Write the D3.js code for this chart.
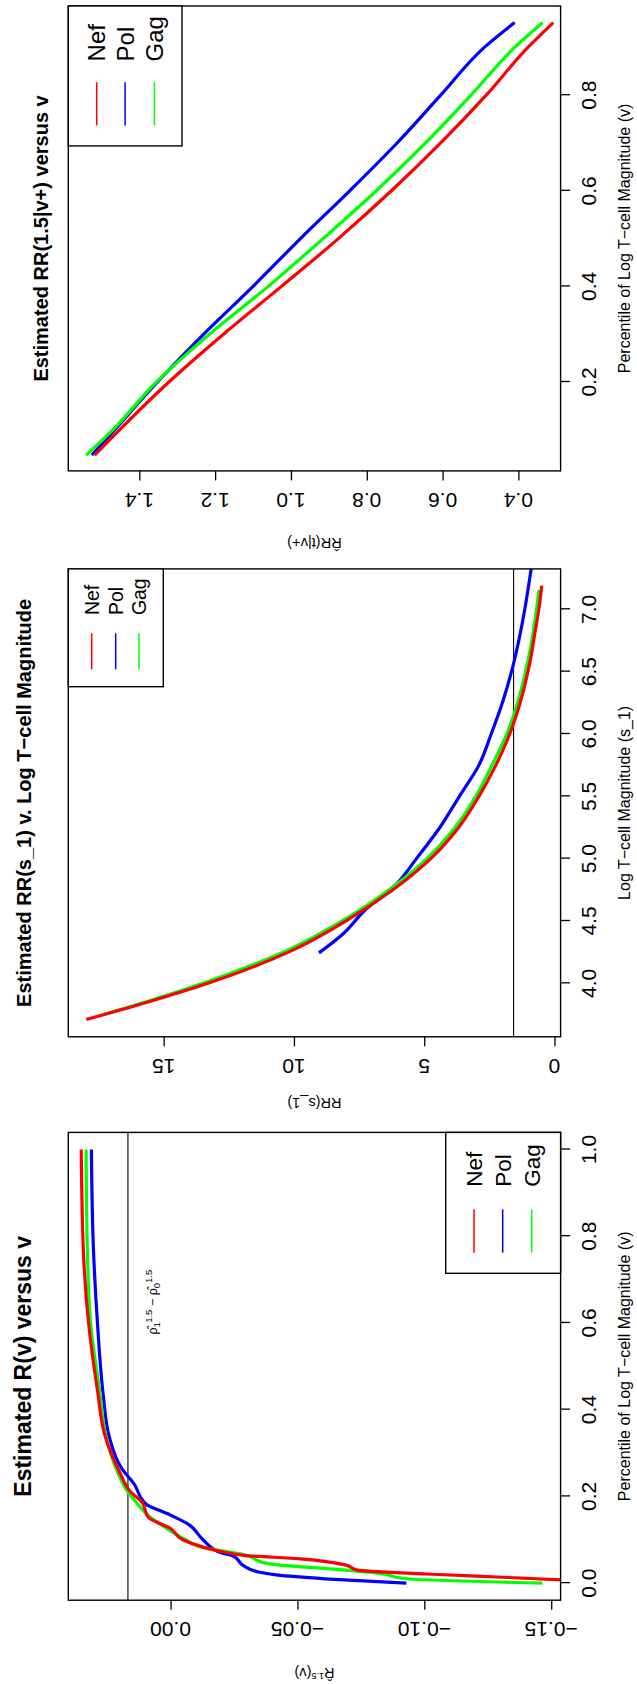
<!DOCTYPE html>
<html>
<head>
<meta charset="utf-8">
<script src="https://cdn.jsdelivr.net/npm/d3@7"></script>
<style>
  body { margin: 0; background: #fff; }
  text { font-family: "Liberation Sans", Arial, Helvetica, sans-serif; fill: #000; }
</style>
</head>
<body>
<div id="chart"></div>
<script>
// series shared by all three panels
const seriesNames = ["Nef", "Pol", "Gag"];
const seriesColors = ["#ff0000", "#0000ff", "#00ff00"];

// panel 1 : estimated R(v) versus v   [v, R]
const rv_nef = [[1.0,0.0352],[0.771,0.0344],[0.599,0.0323],[0.444,0.0288],[0.341,0.0259],[0.255,0.0200],
  [0.212,0.0160],[0.186,0.0112],[0.152,0.0088],[0.126,0.0],[0.100,-0.0048],[0.083,-0.0128],[0.070,-0.0224],
  [0.064,-0.0288],[0.056,-0.0512],[0.042,-0.0688],[0.030,-0.0736],[0.021,-0.1009],[0.013,-0.1329],[0.006,-0.160]];
const rv_pol = [[1.0,0.0312],[0.771,0.0304],[0.599,0.0288],[0.427,0.0264],[0.341,0.0243],[0.264,0.0192],
  [0.229,0.0144],[0.182,0.0096],[0.161,0.0016],[0.135,-0.0072],[0.100,-0.0128],[0.070,-0.0200],[0.062,-0.0248],
  [0.040,-0.0288],[0.025,-0.0352],[0.019,-0.0416],[0.010,-0.0608],[0.0,-0.0929]];
const rv_gag = [[1.0,0.0333],[0.771,0.0328],[0.599,0.0315],[0.444,0.0280],[0.341,0.0256],[0.255,0.0208],
  [0.212,0.0170],[0.186,0.0135],[0.152,0.0080],[0.126,0.0015],[0.100,-0.0060],[0.083,-0.0120],[0.066,-0.0288],
  [0.045,-0.0384],[0.030,-0.0688],[0.023,-0.0817],[0.010,-0.0930],[0.0,-0.1465]];
const rv_xticks = [0, 0.2, 0.4, 0.6, 0.8, 1.0];
const rv_yticks = [0, -0.05, -0.10, -0.15];
const rv_xlim = [-0.0394, 1.0394];
const rv_ylim = [-0.1537, 0.0403];
const rv_hline = 0.0168;

// panel 2 : estimated RR(s_1) versus log T-cell magnitude   [s, RR]
const rr_nef = [[3.71,17.97],[3.85,15.6],[4.0,13.3],[4.27,10.0],[4.5,8.0],[4.75,6.2],[5.0,4.75],[5.25,3.68],
  [5.5,2.9],[5.75,2.25],[6.0,1.72],[6.25,1.32],[6.5,1.02],[6.6,0.92],[6.8,0.76],[7.0,0.6],[7.19,0.49]];
const rr_pol = [[4.244,9.04],[4.4,8.1],[4.582,7.3],[4.8,6.05],[5.0,5.3],[5.25,4.4],[5.5,3.65],[5.75,2.9],
  [6.0,2.43],[6.25,2.0],[6.5,1.65],[6.75,1.37],[7.0,1.14],[7.25,0.95],[7.4,0.84]];
const rr_gag = [[3.75,17.3],[3.85,15.7],[4.0,13.5],[4.27,10.2],[4.5,8.15],[4.75,6.35],[5.0,4.9],[5.25,3.82],
  [5.5,3.02],[5.75,2.4],[6.0,1.83],[6.25,1.42],[6.5,1.11],[6.75,0.87],[7.0,0.69],[7.155,0.595]];
const rr_xticks = [4.0, 4.5, 5.0, 5.5, 6.0, 6.5, 7.0];
const rr_yticks = [0, 5, 10, 15];
const rr_xlim = [3.571, 7.324];
const rr_ylim = [-0.234, 18.66];
const rr_hline = 1.57;

// panel 3 : estimated RR(1.5|v+) versus v   [v, RR]
const rt_v   = [0.047, 0.1, 0.2, 0.3, 0.4, 0.5, 0.6, 0.7, 0.8, 0.9, 0.952];
const rt_nef = [1.518, 1.452, 1.322, 1.178, 1.025, 0.875, 0.735, 0.605, 0.485, 0.375, 0.308];
const rt_pol = [1.525, 1.465, 1.352, 1.23, 1.10, 0.975, 0.845, 0.72, 0.605, 0.49, 0.410];
const rt_gag = [1.540, 1.47, 1.355, 1.215, 1.06, 0.915, 0.775, 0.645, 0.525, 0.41, 0.336];
const rt_xticks = [0.2, 0.4, 0.6, 0.8];
const rt_yticks = [0.4, 0.6, 0.8, 1.0, 1.2, 1.4];
const rt_xlim = [0.014, 0.9866];
const rt_ylim = [0.2887, 1.5873];

// the page is a landscape R figure turned a quarter turn; draw it landscape, then rotate
const W = 1684, H = 637;
const svg = d3.select("#chart").append("svg")
    .attr("width", H)
    .attr("height", W);
const root = svg.append("g")
    .attr("transform", "translate(0," + W + ") rotate(-90)");

function drawPanel(p) {
    const x = d3.scaleLinear().domain(p.xlim).range([p.left, p.right]);
    const y = d3.scaleLinear().domain(p.ylim).range([p.bottom, p.top]);
    const g = root.append("g");

    g.append("clipPath").attr("id", p.id)
        .append("rect")
        .attr("x", p.left).attr("y", p.top)
        .attr("width", p.right - p.left).attr("height", p.bottom - p.top);

    // reference line
    if (p.hline != null) {
        g.append("line")
            .attr("x1", p.left).attr("x2", p.right)
            .attr("y1", y(p.hline)).attr("y2", y(p.hline))
            .attr("stroke", "#000").attr("stroke-width", 1.1);
    }

    // curves
    const line = d3.line().x(d => x(d[0])).y(d => y(d[1])).curve(d3.curveMonotoneX);
    const lg = g.append("g").attr("clip-path", "url(#" + p.id + ")");
    p.order.forEach(function(i) {
        lg.append("path")
            .datum(p.series[i].slice().sort((a, b) => a[0] - b[0]))
            .attr("d", line)
            .attr("fill", "none")
            .attr("stroke", seriesColors[i])
            .attr("stroke-width", 3.2)
            .attr("stroke-linejoin", "round");
    });

    // box
    g.append("rect")
        .attr("x", p.left).attr("y", p.top)
        .attr("width", p.right - p.left).attr("height", p.bottom - p.top)
        .attr("fill", "none").attr("stroke", "#000").attr("stroke-width", 1.4);

    // x axis (bottom in the landscape frame)
    const xa = g.append("g").attr("transform", "translate(0," + p.bottom + ")")
        .call(d3.axisBottom(x).tickValues(p.xticks).tickSize(9.5).tickPadding(0).tickFormat(p.xfmt));
    xa.select(".domain").remove();
    xa.selectAll("line").attr("stroke", "#000").attr("stroke-width", 1.3);
    xa.selectAll("text").remove();
    g.selectAll(".xlab").data(p.xticks).enter().append("text")
        .attr("x", d => x(d)).attr("y", 596)
        .attr("text-anchor", "middle")
        .style("font-size", p.tickFont + "px")
        .text(p.xfmt);

    // y axis (left in the landscape frame), labels parallel to the axis
    const ya = g.append("g").attr("transform", "translate(" + p.left + ",0)")
        .call(d3.axisLeft(y).tickValues(p.yticks).tickSize(9.5).tickFormat(p.yfmt));
    ya.select(".domain").remove();
    ya.selectAll("line").attr("stroke", "#000").attr("stroke-width", 1.3);
    ya.selectAll("text").remove();
    g.selectAll(".ylab").data(p.yticks).enter().append("text")
        .attr("transform", d => "translate(" + (p.left - 22) + "," + y(d) + ") rotate(-90)")
        .attr("text-anchor", "middle")
        .style("font-size", p.tickFont + "px")
        .text(p.yfmt);

    // title
    g.append("text")
        .attr("x", (p.left + p.right) / 2).attr("y", p.titleY)
        .attr("text-anchor", "middle")
        .style("font-size", p.titleFont + "px").style("font-weight", "bold")
        .text(p.title);

    // axis titles
    g.append("text")
        .attr("x", (p.left + p.right) / 2).attr("y", 630)
        .attr("text-anchor", "middle")
        .style("font-size", p.labFont + "px")
        .text(p.xlab);
    const yl = g.append("text")
        .attr("transform", "translate(" + p.ylabX + "," + ((p.top + p.bottom) / 2) + ") rotate(-90)")
        .attr("text-anchor", "middle")
        .style("font-size", "14.6px");
    p.ylab.forEach(function(part) {
        const t = yl.append("tspan").text(part.t);
        if (part.sup) t.attr("baseline-shift", "super").style("font-size", "9px");
    });

    // legend
    const L = p.legend;
    g.append("rect")
        .attr("x", L.x0).attr("y", L.y0)
        .attr("width", L.x1 - L.x0).attr("height", L.y1 - L.y0)
        .attr("fill", "#fff").attr("stroke", "#000").attr("stroke-width", 1.4);
    seriesNames.forEach(function(name, i) {
        g.append("line")
            .attr("x1", L.lx0).attr("x2", L.lx1)
            .attr("y1", L.rows[i]).attr("y2", L.rows[i])
            .attr("stroke", seriesColors[i]).attr("stroke-width", 1.5);
        g.append("text")
            .attr("x", L.tx).attr("y", L.rows[i] + L.font * 0.36)
            .style("font-size", L.font + "px")
            .text(name);
    });

    return {x: x, y: y, g: g};
}

const fmt1 = d3.format(".1f");
const fmtR = d => d === 0 ? "0.00" : d3.format(".2f")(d).replace("-", "\u2212");

const p1 = drawPanel({
    id: "clip1", left: 83.8, right: 551.6, top: 68.3, bottom: 560.6,
    xlim: rv_xlim, ylim: rv_ylim, xticks: rv_xticks, yticks: rv_yticks,
    xfmt: fmt1, yfmt: fmtR, tickFont: 21,
    series: [rv_nef, rv_pol, rv_gag], order: [1, 2, 0], hline: rv_hline,
    title: "Estimated R(v) versus v", titleY: 30.5, titleFont: 23,
    xlab: "Percentile of Log T\u2212cell Magnitude (v)", labFont: 16,
    ylab: [{t: "R\u0302"}, {t: "1.5", sup: true}, {t: "(v)"}], ylabX: 16,
    legend: {x0: 410.7, x1: 551.6, y0: 445.7, y1: 560.6, lx0: 431.3, lx1: 474.7, tx: 497.3,
             rows: [474, 502.7, 531.7], font: 22.5}
});
// annotation next to the reference line
p1.g.append("text")
    .attr("x", p1.x(0.648)).attr("y", 157)
    .attr("text-anchor", "middle")
    .style("font-size", "12.5px")
    .html('\u03C1\u0302<tspan baseline-shift="-25%" font-size="9.5px">1</tspan><tspan baseline-shift="super" font-size="9.5px">1.5</tspan> \u2212 \u03C1\u0302<tspan baseline-shift="-25%" font-size="9.5px">0</tspan><tspan baseline-shift="super" font-size="9.5px">1.5</tspan>');

drawPanel({
    id: "clip2", left: 647.2, right: 1115.1, top: 68.3, bottom: 560.6,
    xlim: rr_xlim, ylim: rr_ylim, xticks: rr_xticks, yticks: rr_yticks,
    xfmt: fmt1, yfmt: d3.format("d"), tickFont: 21,
    series: [rr_nef, rr_pol, rr_gag], order: [1, 2, 0], hline: rr_hline,
    title: "Estimated RR(s_1) v. Log T\u2212cell Magnitude", titleY: 30.5, titleFont: 20,
    xlab: "Log T\u2212cell Magnitude (s_1)", labFont: 16,
    ylab: [{t: "RR(s_1)"}], ylabX: 586,
    legend: {x0: 997.3, x1: 1115.1, y0: 68.3, y1: 163.3, lx0: 1014.7, lx1: 1050.7, tx: 1069,
             rows: [91.7, 115.7, 139], font: 19.4}
});

drawPanel({
    id: "clip3", left: 1213.1, right: 1678, top: 68.3, bottom: 560.6,
    xlim: rt_xlim, ylim: rt_ylim, xticks: rt_xticks, yticks: rt_yticks,
    xfmt: fmt1, yfmt: fmt1, tickFont: 21,
    series: [rt_v.map((v, i) => [v, rt_nef[i]]), rt_v.map((v, i) => [v, rt_pol[i]]), rt_v.map((v, i) => [v, rt_gag[i]])],
    order: [1, 2, 0], hline: null,
    title: "Estimated RR(1.5|v+) versus v", titleY: 48, titleFont: 20,
    xlab: "Percentile of Log T\u2212cell Magnitude (v)", labFont: 16,
    ylab: [{t: "R\u0302R(t|v+)"}], ylabX: 1146,
    legend: {x0: 1538.1, x1: 1678, y0: 68.3, y1: 182, lx0: 1558.6, lx1: 1601.8, tx: 1622.6,
             rows: [96.7, 125.1, 154.4], font: 24}
});
</script>
</body>
</html>
